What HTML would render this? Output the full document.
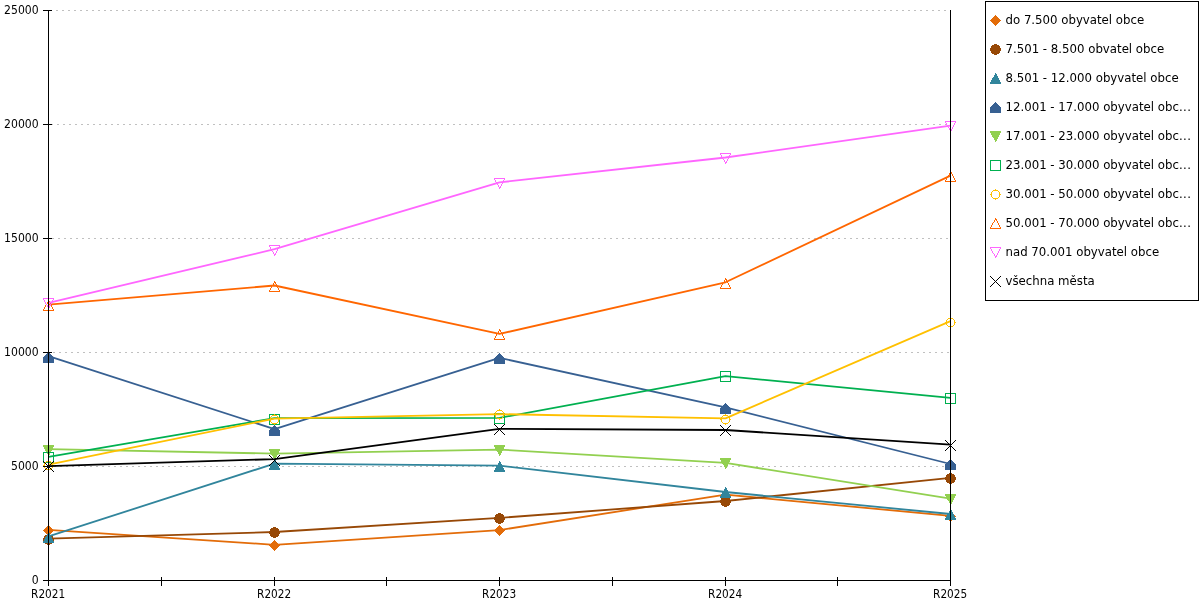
<!DOCTYPE html>
<html lang="cs"><head><meta charset="utf-8"><title>Graf</title>
<style>
html,body{margin:0;padding:0;background:#fff;width:1200px;height:600px;overflow:hidden}
svg{display:block;will-change:transform}
.ax{font-family:"DejaVu Sans Condensed","DejaVu Sans","Liberation Sans",sans-serif;font-size:12.5px;fill:#000}
.lg{font-family:"DejaVu Sans","Liberation Sans",sans-serif;font-size:11.75px;fill:#000}
</style></head><body>
<svg width="1200" height="600" viewBox="0 0 1200 600">
<rect width="1200" height="600" fill="#fff"/>
<g stroke="#c0c0c0" stroke-width="1" stroke-dasharray="2 4" fill="none">
<line x1="50" y1="466.5" x2="950" y2="466.5" stroke-dashoffset="-4"/>
<line x1="50" y1="352.5" x2="950" y2="352.5" stroke-dashoffset="-3"/>
<line x1="50" y1="238.5" x2="950" y2="238.5" stroke-dashoffset="-2"/>
<line x1="50" y1="124.5" x2="950" y2="124.5" stroke-dashoffset="-1"/>
<line x1="50" y1="10.5" x2="950" y2="10.5" stroke-dashoffset="0"/>
</g>
<polyline points="48.5 529.8 274.5 544.8 499.5 530.1 725.5 494.6 950.5 515.9" fill="none" stroke="#E36C09" stroke-width="1.8" stroke-linejoin="round"/>
<g shape-rendering="crispEdges">
<path d="M48 525h1v1h-1zM47 526h3v1h-3zM46 527h5v1h-5zM45 528h7v1h-7zM44 529h9v1h-9zM43 530h11v1h-11zM44 531h9v1h-9zM45 532h7v1h-7zM46 533h5v1h-5zM47 534h3v1h-3zM48 535h1v1h-1z" fill="#E36C09"/>
<path d="M274 540h1v1h-1zM273 541h3v1h-3zM272 542h5v1h-5zM271 543h7v1h-7zM270 544h9v1h-9zM269 545h11v1h-11zM270 546h9v1h-9zM271 547h7v1h-7zM272 548h5v1h-5zM273 549h3v1h-3zM274 550h1v1h-1z" fill="#E36C09"/>
<path d="M499 525h1v1h-1zM498 526h3v1h-3zM497 527h5v1h-5zM496 528h7v1h-7zM495 529h9v1h-9zM494 530h11v1h-11zM495 531h9v1h-9zM496 532h7v1h-7zM497 533h5v1h-5zM498 534h3v1h-3zM499 535h1v1h-1z" fill="#E36C09"/>
<path d="M725 490h1v1h-1zM724 491h3v1h-3zM723 492h5v1h-5zM722 493h7v1h-7zM721 494h9v1h-9zM720 495h11v1h-11zM721 496h9v1h-9zM722 497h7v1h-7zM723 498h5v1h-5zM724 499h3v1h-3zM725 500h1v1h-1z" fill="#E36C09"/>
<path d="M950 511h1v1h-1zM949 512h3v1h-3zM948 513h5v1h-5zM947 514h7v1h-7zM946 515h9v1h-9zM945 516h11v1h-11zM946 517h9v1h-9zM947 518h7v1h-7zM948 519h5v1h-5zM949 520h3v1h-3zM950 521h1v1h-1z" fill="#E36C09"/>
</g>
<polyline points="48.5 538.6 274.5 532.0 499.5 517.9 725.5 501.0 950.5 477.9" fill="none" stroke="#974806" stroke-width="1.8" stroke-linejoin="round"/>
<g shape-rendering="crispEdges">
<path d="M47 534h3v1h-3zM45 535h7v1h-7zM44 536h9v1h-9zM44 537h9v1h-9zM43 538h11v1h-11zM43 539h11v1h-11zM43 540h11v1h-11zM44 541h9v1h-9zM44 542h9v1h-9zM45 543h7v1h-7zM47 544h3v1h-3z" fill="#974806"/>
<path d="M273 527h3v1h-3zM271 528h7v1h-7zM270 529h9v1h-9zM270 530h9v1h-9zM269 531h11v1h-11zM269 532h11v1h-11zM269 533h11v1h-11zM270 534h9v1h-9zM270 535h9v1h-9zM271 536h7v1h-7zM273 537h3v1h-3z" fill="#974806"/>
<path d="M498 513h3v1h-3zM496 514h7v1h-7zM495 515h9v1h-9zM495 516h9v1h-9zM494 517h11v1h-11zM494 518h11v1h-11zM494 519h11v1h-11zM495 520h9v1h-9zM495 521h9v1h-9zM496 522h7v1h-7zM498 523h3v1h-3z" fill="#974806"/>
<path d="M724 496h3v1h-3zM722 497h7v1h-7zM721 498h9v1h-9zM721 499h9v1h-9zM720 500h11v1h-11zM720 501h11v1h-11zM720 502h11v1h-11zM721 503h9v1h-9zM721 504h9v1h-9zM722 505h7v1h-7zM724 506h3v1h-3z" fill="#974806"/>
<path d="M949 473h3v1h-3zM947 474h7v1h-7zM946 475h9v1h-9zM946 476h9v1h-9zM945 477h11v1h-11zM945 478h11v1h-11zM945 479h11v1h-11zM946 480h9v1h-9zM946 481h9v1h-9zM947 482h7v1h-7zM949 483h3v1h-3z" fill="#974806"/>
</g>
<polyline points="48.5 536.4 274.5 463.6 499.5 465.6 725.5 492.0 950.5 514.0" fill="none" stroke="#31859C" stroke-width="1.8" stroke-linejoin="round"/>
<g shape-rendering="crispEdges">
<path d="M48 532h1v1h-1zM48 533h2v1h-2zM47 534h3v1h-3zM47 535h4v1h-4zM46 536h5v1h-5zM45 537h7v1h-7zM45 538h7v1h-7zM44 539h9v1h-9zM44 540h9v1h-9zM43 541h11v1h-11zM43 542h11v1h-11z" fill="#31859C"/>
<path d="M274 459h1v1h-1zM274 460h2v1h-2zM273 461h3v1h-3zM273 462h4v1h-4zM272 463h5v1h-5zM271 464h7v1h-7zM271 465h7v1h-7zM270 466h9v1h-9zM270 467h9v1h-9zM269 468h11v1h-11zM269 469h11v1h-11z" fill="#31859C"/>
<path d="M499 461h1v1h-1zM499 462h2v1h-2zM498 463h3v1h-3zM498 464h4v1h-4zM497 465h5v1h-5zM496 466h7v1h-7zM496 467h7v1h-7zM495 468h9v1h-9zM495 469h9v1h-9zM494 470h11v1h-11zM494 471h11v1h-11z" fill="#31859C"/>
<path d="M725 487h1v1h-1zM725 488h2v1h-2zM724 489h3v1h-3zM724 490h4v1h-4zM723 491h5v1h-5zM722 492h7v1h-7zM722 493h7v1h-7zM721 494h9v1h-9zM721 495h9v1h-9zM720 496h11v1h-11zM720 497h11v1h-11z" fill="#31859C"/>
<path d="M950 509h1v1h-1zM950 510h2v1h-2zM949 511h3v1h-3zM949 512h4v1h-4zM948 513h5v1h-5zM947 514h7v1h-7zM947 515h7v1h-7zM946 516h9v1h-9zM946 517h9v1h-9zM945 518h11v1h-11zM945 519h11v1h-11z" fill="#31859C"/>
</g>
<polyline points="48.5 356.2 274.5 429.1 499.5 357.9 725.5 407.4 950.5 464.0" fill="none" stroke="#376092" stroke-width="1.8" stroke-linejoin="round"/>
<g shape-rendering="crispEdges">
<path d="M48 352h1v1h-1zM47 353h3v1h-3zM46 354h5v1h-5zM45 355h7v1h-7zM44 356h9v1h-9zM43 357h11v1h-11zM43 358h11v1h-11zM43 359h11v1h-11zM43 360h11v1h-11zM43 361h11v1h-11zM43 362h11v1h-11z" fill="#376092"/>
<path d="M274 425h1v1h-1zM273 426h3v1h-3zM272 427h5v1h-5zM271 428h7v1h-7zM270 429h9v1h-9zM269 430h11v1h-11zM269 431h11v1h-11zM269 432h11v1h-11zM269 433h11v1h-11zM269 434h11v1h-11zM269 435h11v1h-11z" fill="#376092"/>
<path d="M499 353h1v1h-1zM498 354h3v1h-3zM497 355h5v1h-5zM496 356h7v1h-7zM495 357h9v1h-9zM494 358h11v1h-11zM494 359h11v1h-11zM494 360h11v1h-11zM494 361h11v1h-11zM494 362h11v1h-11zM494 363h11v1h-11z" fill="#376092"/>
<path d="M725 403h1v1h-1zM724 404h3v1h-3zM723 405h5v1h-5zM722 406h7v1h-7zM721 407h9v1h-9zM720 408h11v1h-11zM720 409h11v1h-11zM720 410h11v1h-11zM720 411h11v1h-11zM720 412h11v1h-11zM720 413h11v1h-11z" fill="#376092"/>
<path d="M950 459h1v1h-1zM949 460h3v1h-3zM948 461h5v1h-5zM947 462h7v1h-7zM946 463h9v1h-9zM945 464h11v1h-11zM945 465h11v1h-11zM945 466h11v1h-11zM945 467h11v1h-11zM945 468h11v1h-11zM945 469h11v1h-11z" fill="#376092"/>
</g>
<polyline points="48.5 449.2 274.5 453.6 499.5 449.6 725.5 462.9 950.5 498.7" fill="none" stroke="#92D050" stroke-width="1.8" stroke-linejoin="round"/>
<g shape-rendering="crispEdges">
<path d="M43 445h11v1h-11zM43 446h11v1h-11zM44 447h9v1h-9zM44 448h9v1h-9zM45 449h7v1h-7zM45 450h7v1h-7zM46 451h5v1h-5zM47 452h4v1h-4zM47 453h3v1h-3zM48 454h2v1h-2zM48 455h1v1h-1z" fill="#92D050"/>
<path d="M269 449h11v1h-11zM269 450h11v1h-11zM270 451h9v1h-9zM270 452h9v1h-9zM271 453h7v1h-7zM271 454h7v1h-7zM272 455h5v1h-5zM273 456h4v1h-4zM273 457h3v1h-3zM274 458h2v1h-2zM274 459h1v1h-1z" fill="#92D050"/>
<path d="M494 445h11v1h-11zM494 446h11v1h-11zM495 447h9v1h-9zM495 448h9v1h-9zM496 449h7v1h-7zM496 450h7v1h-7zM497 451h5v1h-5zM498 452h4v1h-4zM498 453h3v1h-3zM499 454h2v1h-2zM499 455h1v1h-1z" fill="#92D050"/>
<path d="M720 458h11v1h-11zM720 459h11v1h-11zM721 460h9v1h-9zM721 461h9v1h-9zM722 462h7v1h-7zM722 463h7v1h-7zM723 464h5v1h-5zM724 465h4v1h-4zM724 466h3v1h-3zM725 467h2v1h-2zM725 468h1v1h-1z" fill="#92D050"/>
<path d="M945 494h11v1h-11zM945 495h11v1h-11zM946 496h9v1h-9zM946 497h9v1h-9zM947 498h7v1h-7zM947 499h7v1h-7zM948 500h5v1h-5zM949 501h4v1h-4zM949 502h3v1h-3zM950 503h2v1h-2zM950 504h1v1h-1z" fill="#92D050"/>
</g>
<polyline points="48.5 456.9 274.5 418.2 499.5 417.9 725.5 376.1 950.5 397.9" fill="none" stroke="#00B050" stroke-width="1.8" stroke-linejoin="round"/>
<g shape-rendering="crispEdges">
<path d="M43 452h11v1h-11zM43 453h1v1h-1zM53 453h1v1h-1zM43 454h1v1h-1zM53 454h1v1h-1zM43 455h1v1h-1zM53 455h1v1h-1zM43 456h1v1h-1zM53 456h1v1h-1zM43 457h1v1h-1zM53 457h1v1h-1zM43 458h1v1h-1zM53 458h1v1h-1zM43 459h1v1h-1zM53 459h1v1h-1zM43 460h1v1h-1zM53 460h1v1h-1zM43 461h1v1h-1zM53 461h1v1h-1zM43 462h11v1h-11z" fill="#00B050"/>
<path d="M269 414h11v1h-11zM269 415h1v1h-1zM279 415h1v1h-1zM269 416h1v1h-1zM279 416h1v1h-1zM269 417h1v1h-1zM279 417h1v1h-1zM269 418h1v1h-1zM279 418h1v1h-1zM269 419h1v1h-1zM279 419h1v1h-1zM269 420h1v1h-1zM279 420h1v1h-1zM269 421h1v1h-1zM279 421h1v1h-1zM269 422h1v1h-1zM279 422h1v1h-1zM269 423h1v1h-1zM279 423h1v1h-1zM269 424h11v1h-11z" fill="#00B050"/>
<path d="M494 413h11v1h-11zM494 414h1v1h-1zM504 414h1v1h-1zM494 415h1v1h-1zM504 415h1v1h-1zM494 416h1v1h-1zM504 416h1v1h-1zM494 417h1v1h-1zM504 417h1v1h-1zM494 418h1v1h-1zM504 418h1v1h-1zM494 419h1v1h-1zM504 419h1v1h-1zM494 420h1v1h-1zM504 420h1v1h-1zM494 421h1v1h-1zM504 421h1v1h-1zM494 422h1v1h-1zM504 422h1v1h-1zM494 423h11v1h-11z" fill="#00B050"/>
<path d="M720 371h11v1h-11zM720 372h1v1h-1zM730 372h1v1h-1zM720 373h1v1h-1zM730 373h1v1h-1zM720 374h1v1h-1zM730 374h1v1h-1zM720 375h1v1h-1zM730 375h1v1h-1zM720 376h1v1h-1zM730 376h1v1h-1zM720 377h1v1h-1zM730 377h1v1h-1zM720 378h1v1h-1zM730 378h1v1h-1zM720 379h1v1h-1zM730 379h1v1h-1zM720 380h1v1h-1zM730 380h1v1h-1zM720 381h11v1h-11z" fill="#00B050"/>
<path d="M945 393h11v1h-11zM945 394h1v1h-1zM955 394h1v1h-1zM945 395h1v1h-1zM955 395h1v1h-1zM945 396h1v1h-1zM955 396h1v1h-1zM945 397h1v1h-1zM955 397h1v1h-1zM945 398h1v1h-1zM955 398h1v1h-1zM945 399h1v1h-1zM955 399h1v1h-1zM945 400h1v1h-1zM955 400h1v1h-1zM945 401h1v1h-1zM955 401h1v1h-1zM945 402h1v1h-1zM955 402h1v1h-1zM945 403h11v1h-11z" fill="#00B050"/>
</g>
<polyline points="48.5 464.6 274.5 418.6 499.5 414.1 725.5 418.3 950.5 321.1" fill="none" stroke="#FFC000" stroke-width="1.8" stroke-linejoin="round"/>
<g shape-rendering="crispEdges">
<path d="M48 460h1v1h-1zM46 461h5v1h-5zM45 462h1v1h-1zM51 462h1v1h-1zM44 463h1v1h-1zM52 463h1v1h-1zM44 464h1v1h-1zM52 464h1v1h-1zM43 465h2v1h-2zM52 465h2v1h-2zM44 466h1v1h-1zM52 466h1v1h-1zM44 467h1v1h-1zM52 467h1v1h-1zM45 468h1v1h-1zM51 468h1v1h-1zM46 469h5v1h-5zM48 470h1v1h-1z" fill="#FFC000"/>
<path d="M274 414h1v1h-1zM272 415h5v1h-5zM271 416h1v1h-1zM277 416h1v1h-1zM270 417h1v1h-1zM278 417h1v1h-1zM270 418h1v1h-1zM278 418h1v1h-1zM269 419h2v1h-2zM278 419h2v1h-2zM270 420h1v1h-1zM278 420h1v1h-1zM270 421h1v1h-1zM278 421h1v1h-1zM271 422h1v1h-1zM277 422h1v1h-1zM272 423h5v1h-5zM274 424h1v1h-1z" fill="#FFC000"/>
<path d="M499 409h1v1h-1zM497 410h5v1h-5zM496 411h1v1h-1zM502 411h1v1h-1zM495 412h1v1h-1zM503 412h1v1h-1zM495 413h1v1h-1zM503 413h1v1h-1zM494 414h2v1h-2zM503 414h2v1h-2zM495 415h1v1h-1zM503 415h1v1h-1zM495 416h1v1h-1zM503 416h1v1h-1zM496 417h1v1h-1zM502 417h1v1h-1zM497 418h5v1h-5zM499 419h1v1h-1z" fill="#FFC000"/>
<path d="M725 414h1v1h-1zM723 415h5v1h-5zM722 416h1v1h-1zM728 416h1v1h-1zM721 417h1v1h-1zM729 417h1v1h-1zM721 418h1v1h-1zM729 418h1v1h-1zM720 419h2v1h-2zM729 419h2v1h-2zM721 420h1v1h-1zM729 420h1v1h-1zM721 421h1v1h-1zM729 421h1v1h-1zM722 422h1v1h-1zM728 422h1v1h-1zM723 423h5v1h-5zM725 424h1v1h-1z" fill="#FFC000"/>
<path d="M950 317h1v1h-1zM948 318h5v1h-5zM947 319h1v1h-1zM953 319h1v1h-1zM946 320h1v1h-1zM954 320h1v1h-1zM946 321h1v1h-1zM954 321h1v1h-1zM945 322h2v1h-2zM954 322h2v1h-2zM946 323h1v1h-1zM954 323h1v1h-1zM946 324h1v1h-1zM954 324h1v1h-1zM947 325h1v1h-1zM953 325h1v1h-1zM948 326h5v1h-5zM950 327h1v1h-1z" fill="#FFC000"/>
</g>
<polyline points="48.5 304.6 274.5 285.5 499.5 333.9 725.5 282.3 950.5 175.6" fill="none" stroke="#FF6600" stroke-width="1.8" stroke-linejoin="round"/>
<g shape-rendering="crispEdges">
<path d="M48 300h1v1h-1zM48 301h2v1h-2zM47 302h1v1h-1zM49 302h1v1h-1zM47 303h1v1h-1zM50 303h1v1h-1zM46 304h1v1h-1zM50 304h1v1h-1zM45 305h1v1h-1zM51 305h1v1h-1zM45 306h1v1h-1zM51 306h1v1h-1zM44 307h1v1h-1zM52 307h1v1h-1zM44 308h1v1h-1zM52 308h1v1h-1zM43 309h1v1h-1zM53 309h1v1h-1zM43 310h11v1h-11z" fill="#FF6600"/>
<path d="M274 281h1v1h-1zM274 282h2v1h-2zM273 283h1v1h-1zM275 283h1v1h-1zM273 284h1v1h-1zM276 284h1v1h-1zM272 285h1v1h-1zM276 285h1v1h-1zM271 286h1v1h-1zM277 286h1v1h-1zM271 287h1v1h-1zM277 287h1v1h-1zM270 288h1v1h-1zM278 288h1v1h-1zM270 289h1v1h-1zM278 289h1v1h-1zM269 290h1v1h-1zM279 290h1v1h-1zM269 291h11v1h-11z" fill="#FF6600"/>
<path d="M499 329h1v1h-1zM499 330h2v1h-2zM498 331h1v1h-1zM500 331h1v1h-1zM498 332h1v1h-1zM501 332h1v1h-1zM497 333h1v1h-1zM501 333h1v1h-1zM496 334h1v1h-1zM502 334h1v1h-1zM496 335h1v1h-1zM502 335h1v1h-1zM495 336h1v1h-1zM503 336h1v1h-1zM495 337h1v1h-1zM503 337h1v1h-1zM494 338h1v1h-1zM504 338h1v1h-1zM494 339h11v1h-11z" fill="#FF6600"/>
<path d="M725 278h1v1h-1zM725 279h2v1h-2zM724 280h1v1h-1zM726 280h1v1h-1zM724 281h1v1h-1zM727 281h1v1h-1zM723 282h1v1h-1zM727 282h1v1h-1zM722 283h1v1h-1zM728 283h1v1h-1zM722 284h1v1h-1zM728 284h1v1h-1zM721 285h1v1h-1zM729 285h1v1h-1zM721 286h1v1h-1zM729 286h1v1h-1zM720 287h1v1h-1zM730 287h1v1h-1zM720 288h11v1h-11z" fill="#FF6600"/>
<path d="M950 171h1v1h-1zM950 172h2v1h-2zM949 173h1v1h-1zM951 173h1v1h-1zM949 174h1v1h-1zM952 174h1v1h-1zM948 175h1v1h-1zM952 175h1v1h-1zM947 176h1v1h-1zM953 176h1v1h-1zM947 177h1v1h-1zM953 177h1v1h-1zM946 178h1v1h-1zM954 178h1v1h-1zM946 179h1v1h-1zM954 179h1v1h-1zM945 180h1v1h-1zM955 180h1v1h-1zM945 181h11v1h-11z" fill="#FF6600"/>
</g>
<polyline points="48.5 302.8 274.5 249.2 499.5 182.4 725.5 157.5 950.5 125.6" fill="none" stroke="#FF66FF" stroke-width="1.8" stroke-linejoin="round"/>
<g shape-rendering="crispEdges">
<path d="M43 298h11v1h-11zM43 299h1v1h-1zM53 299h1v1h-1zM44 300h1v1h-1zM52 300h1v1h-1zM44 301h1v1h-1zM52 301h1v1h-1zM45 302h1v1h-1zM51 302h1v1h-1zM45 303h1v1h-1zM51 303h1v1h-1zM46 304h1v1h-1zM50 304h1v1h-1zM47 305h1v1h-1zM50 305h1v1h-1zM47 306h1v1h-1zM49 306h1v1h-1zM48 307h2v1h-2zM48 308h1v1h-1z" fill="#FF66FF"/>
<path d="M269 245h11v1h-11zM269 246h1v1h-1zM279 246h1v1h-1zM270 247h1v1h-1zM278 247h1v1h-1zM270 248h1v1h-1zM278 248h1v1h-1zM271 249h1v1h-1zM277 249h1v1h-1zM271 250h1v1h-1zM277 250h1v1h-1zM272 251h1v1h-1zM276 251h1v1h-1zM273 252h1v1h-1zM276 252h1v1h-1zM273 253h1v1h-1zM275 253h1v1h-1zM274 254h2v1h-2zM274 255h1v1h-1z" fill="#FF66FF"/>
<path d="M494 178h11v1h-11zM494 179h1v1h-1zM504 179h1v1h-1zM495 180h1v1h-1zM503 180h1v1h-1zM495 181h1v1h-1zM503 181h1v1h-1zM496 182h1v1h-1zM502 182h1v1h-1zM496 183h1v1h-1zM502 183h1v1h-1zM497 184h1v1h-1zM501 184h1v1h-1zM498 185h1v1h-1zM501 185h1v1h-1zM498 186h1v1h-1zM500 186h1v1h-1zM499 187h2v1h-2zM499 188h1v1h-1z" fill="#FF66FF"/>
<path d="M720 153h11v1h-11zM720 154h1v1h-1zM730 154h1v1h-1zM721 155h1v1h-1zM729 155h1v1h-1zM721 156h1v1h-1zM729 156h1v1h-1zM722 157h1v1h-1zM728 157h1v1h-1zM722 158h1v1h-1zM728 158h1v1h-1zM723 159h1v1h-1zM727 159h1v1h-1zM724 160h1v1h-1zM727 160h1v1h-1zM724 161h1v1h-1zM726 161h1v1h-1zM725 162h2v1h-2zM725 163h1v1h-1z" fill="#FF66FF"/>
<path d="M945 121h11v1h-11zM945 122h1v1h-1zM955 122h1v1h-1zM946 123h1v1h-1zM954 123h1v1h-1zM946 124h1v1h-1zM954 124h1v1h-1zM947 125h1v1h-1zM953 125h1v1h-1zM947 126h1v1h-1zM953 126h1v1h-1zM948 127h1v1h-1zM952 127h1v1h-1zM949 128h1v1h-1zM952 128h1v1h-1zM949 129h1v1h-1zM951 129h1v1h-1zM950 130h2v1h-2zM950 131h1v1h-1z" fill="#FF66FF"/>
</g>
<polyline points="48.5 466.1 274.5 459.1 499.5 428.9 725.5 430.0 950.5 444.6" fill="none" stroke="#000000" stroke-width="1.8" stroke-linejoin="round"/>
<g shape-rendering="crispEdges">
<path d="M43 461h1v1h-1zM53 461h1v1h-1zM44 462h1v1h-1zM52 462h1v1h-1zM45 463h1v1h-1zM51 463h1v1h-1zM46 464h1v1h-1zM50 464h1v1h-1zM47 465h1v1h-1zM49 465h1v1h-1zM48 466h1v1h-1zM47 467h1v1h-1zM49 467h1v1h-1zM46 468h1v1h-1zM50 468h1v1h-1zM45 469h1v1h-1zM51 469h1v1h-1zM44 470h1v1h-1zM52 470h1v1h-1zM43 471h1v1h-1zM53 471h1v1h-1z" fill="#000000"/>
<path d="M269 455h1v1h-1zM279 455h1v1h-1zM270 456h1v1h-1zM278 456h1v1h-1zM271 457h1v1h-1zM277 457h1v1h-1zM272 458h1v1h-1zM276 458h1v1h-1zM273 459h1v1h-1zM275 459h1v1h-1zM274 460h1v1h-1zM273 461h1v1h-1zM275 461h1v1h-1zM272 462h1v1h-1zM276 462h1v1h-1zM271 463h1v1h-1zM277 463h1v1h-1zM270 464h1v1h-1zM278 464h1v1h-1zM269 465h1v1h-1zM279 465h1v1h-1z" fill="#000000"/>
<path d="M494 424h1v1h-1zM504 424h1v1h-1zM495 425h1v1h-1zM503 425h1v1h-1zM496 426h1v1h-1zM502 426h1v1h-1zM497 427h1v1h-1zM501 427h1v1h-1zM498 428h1v1h-1zM500 428h1v1h-1zM499 429h1v1h-1zM498 430h1v1h-1zM500 430h1v1h-1zM497 431h1v1h-1zM501 431h1v1h-1zM496 432h1v1h-1zM502 432h1v1h-1zM495 433h1v1h-1zM503 433h1v1h-1zM494 434h1v1h-1zM504 434h1v1h-1z" fill="#000000"/>
<path d="M720 425h1v1h-1zM730 425h1v1h-1zM721 426h1v1h-1zM729 426h1v1h-1zM722 427h1v1h-1zM728 427h1v1h-1zM723 428h1v1h-1zM727 428h1v1h-1zM724 429h1v1h-1zM726 429h1v1h-1zM725 430h1v1h-1zM724 431h1v1h-1zM726 431h1v1h-1zM723 432h1v1h-1zM727 432h1v1h-1zM722 433h1v1h-1zM728 433h1v1h-1zM721 434h1v1h-1zM729 434h1v1h-1zM720 435h1v1h-1zM730 435h1v1h-1z" fill="#000000"/>
<path d="M945 440h1v1h-1zM955 440h1v1h-1zM946 441h1v1h-1zM954 441h1v1h-1zM947 442h1v1h-1zM953 442h1v1h-1zM948 443h1v1h-1zM952 443h1v1h-1zM949 444h1v1h-1zM951 444h1v1h-1zM950 445h1v1h-1zM949 446h1v1h-1zM951 446h1v1h-1zM948 447h1v1h-1zM952 447h1v1h-1zM947 448h1v1h-1zM953 448h1v1h-1zM946 449h1v1h-1zM954 449h1v1h-1zM945 450h1v1h-1zM955 450h1v1h-1z" fill="#000000"/>
</g>
<g stroke="#000" stroke-width="1" fill="none" shape-rendering="crispEdges">
<line x1="48.5" y1="10" x2="48.5" y2="581"/>
<line x1="950.5" y1="10" x2="950.5" y2="581"/>
<line x1="48" y1="580.5" x2="951" y2="580.5"/>
<line x1="43" y1="580.5" x2="52" y2="580.5"/>
<line x1="43" y1="466.5" x2="52" y2="466.5"/>
<line x1="43" y1="352.5" x2="52" y2="352.5"/>
<line x1="43" y1="238.5" x2="52" y2="238.5"/>
<line x1="43" y1="124.5" x2="52" y2="124.5"/>
<line x1="43" y1="10.5" x2="52" y2="10.5"/>
<line x1="48.5" y1="577" x2="48.5" y2="586"/>
<line x1="161.5" y1="577" x2="161.5" y2="586"/>
<line x1="274.5" y1="577" x2="274.5" y2="586"/>
<line x1="386.5" y1="577" x2="386.5" y2="586"/>
<line x1="499.5" y1="577" x2="499.5" y2="586"/>
<line x1="612.5" y1="577" x2="612.5" y2="586"/>
<line x1="725.5" y1="577" x2="725.5" y2="586"/>
<line x1="837.5" y1="577" x2="837.5" y2="586"/>
<line x1="950.5" y1="577" x2="950.5" y2="586"/>
</g>
<text class="ax" transform="translate(38.6 584.0) scale(0.965 1)" text-anchor="end">0</text>
<text class="ax" transform="translate(38.6 470.0) scale(0.965 1)" text-anchor="end">5000</text>
<text class="ax" transform="translate(38.6 356.0) scale(0.965 1)" text-anchor="end">10000</text>
<text class="ax" transform="translate(38.6 242.0) scale(0.965 1)" text-anchor="end">15000</text>
<text class="ax" transform="translate(38.6 128.0) scale(0.965 1)" text-anchor="end">20000</text>
<text class="ax" transform="translate(38.6 14.0) scale(0.965 1)" text-anchor="end">25000</text>
<text class="ax" transform="translate(48.1 598) scale(0.935 1)" text-anchor="middle">R2021</text>
<text class="ax" transform="translate(274.1 598) scale(0.935 1)" text-anchor="middle">R2022</text>
<text class="ax" transform="translate(499.1 598) scale(0.935 1)" text-anchor="middle">R2023</text>
<text class="ax" transform="translate(725.1 598) scale(0.935 1)" text-anchor="middle">R2024</text>
<text class="ax" transform="translate(950.1 598) scale(0.935 1)" text-anchor="middle">R2025</text>
<rect x="985.5" y="1.5" width="213" height="299" fill="#fff" stroke="#000" stroke-width="1"/>
<path d="M995 15h1v1h-1zM994 16h3v1h-3zM993 17h5v1h-5zM992 18h7v1h-7zM991 19h9v1h-9zM990 20h11v1h-11zM991 21h9v1h-9zM992 22h7v1h-7zM993 23h5v1h-5zM994 24h3v1h-3zM995 25h1v1h-1z" fill="#E36C09"/>
<text class="lg" x="1005.5" y="23.5">do 7.500 obyvatel obce</text>
<path d="M994 44h3v1h-3zM992 45h7v1h-7zM991 46h9v1h-9zM991 47h9v1h-9zM990 48h11v1h-11zM990 49h11v1h-11zM990 50h11v1h-11zM991 51h9v1h-9zM991 52h9v1h-9zM992 53h7v1h-7zM994 54h3v1h-3z" fill="#974806"/>
<text class="lg" x="1005.5" y="52.5">7.501 - 8.500 obvatel obce</text>
<path d="M995 73h1v1h-1zM995 74h2v1h-2zM994 75h3v1h-3zM994 76h4v1h-4zM993 77h5v1h-5zM992 78h7v1h-7zM992 79h7v1h-7zM991 80h9v1h-9zM991 81h9v1h-9zM990 82h11v1h-11zM990 83h11v1h-11z" fill="#31859C"/>
<text class="lg" x="1005.5" y="81.5">8.501 - 12.000 obyvatel obce</text>
<path d="M995 102h1v1h-1zM994 103h3v1h-3zM993 104h5v1h-5zM992 105h7v1h-7zM991 106h9v1h-9zM990 107h11v1h-11zM990 108h11v1h-11zM990 109h11v1h-11zM990 110h11v1h-11zM990 111h11v1h-11zM990 112h11v1h-11z" fill="#376092"/>
<text class="lg" x="1005.5" y="110.5">12.001 - 17.000 obyvatel obc<tspan letter-spacing="0.5">...</tspan></text>
<path d="M990 131h11v1h-11zM990 132h11v1h-11zM991 133h9v1h-9zM991 134h9v1h-9zM992 135h7v1h-7zM992 136h7v1h-7zM993 137h5v1h-5zM994 138h4v1h-4zM994 139h3v1h-3zM995 140h2v1h-2zM995 141h1v1h-1z" fill="#92D050"/>
<text class="lg" x="1005.5" y="139.5">17.001 - 23.000 obyvatel obc<tspan letter-spacing="0.5">...</tspan></text>
<path d="M990 160h11v1h-11zM990 161h1v1h-1zM1000 161h1v1h-1zM990 162h1v1h-1zM1000 162h1v1h-1zM990 163h1v1h-1zM1000 163h1v1h-1zM990 164h1v1h-1zM1000 164h1v1h-1zM990 165h1v1h-1zM1000 165h1v1h-1zM990 166h1v1h-1zM1000 166h1v1h-1zM990 167h1v1h-1zM1000 167h1v1h-1zM990 168h1v1h-1zM1000 168h1v1h-1zM990 169h1v1h-1zM1000 169h1v1h-1zM990 170h11v1h-11z" fill="#00B050"/>
<text class="lg" x="1005.5" y="168.5">23.001 - 30.000 obyvatel obc<tspan letter-spacing="0.5">...</tspan></text>
<path d="M995 189h1v1h-1zM993 190h5v1h-5zM992 191h1v1h-1zM998 191h1v1h-1zM991 192h1v1h-1zM999 192h1v1h-1zM991 193h1v1h-1zM999 193h1v1h-1zM990 194h2v1h-2zM999 194h2v1h-2zM991 195h1v1h-1zM999 195h1v1h-1zM991 196h1v1h-1zM999 196h1v1h-1zM992 197h1v1h-1zM998 197h1v1h-1zM993 198h5v1h-5zM995 199h1v1h-1z" fill="#FFC000"/>
<text class="lg" x="1005.5" y="197.5">30.001 - 50.000 obyvatel obc<tspan letter-spacing="0.5">...</tspan></text>
<path d="M995 218h1v1h-1zM995 219h2v1h-2zM994 220h1v1h-1zM996 220h1v1h-1zM994 221h1v1h-1zM997 221h1v1h-1zM993 222h1v1h-1zM997 222h1v1h-1zM992 223h1v1h-1zM998 223h1v1h-1zM992 224h1v1h-1zM998 224h1v1h-1zM991 225h1v1h-1zM999 225h1v1h-1zM991 226h1v1h-1zM999 226h1v1h-1zM990 227h1v1h-1zM1000 227h1v1h-1zM990 228h11v1h-11z" fill="#FF6600"/>
<text class="lg" x="1005.5" y="226.5">50.001 - 70.000 obyvatel obc<tspan letter-spacing="0.5">...</tspan></text>
<path d="M990 247h11v1h-11zM990 248h1v1h-1zM1000 248h1v1h-1zM991 249h1v1h-1zM999 249h1v1h-1zM991 250h1v1h-1zM999 250h1v1h-1zM992 251h1v1h-1zM998 251h1v1h-1zM992 252h1v1h-1zM998 252h1v1h-1zM993 253h1v1h-1zM997 253h1v1h-1zM994 254h1v1h-1zM997 254h1v1h-1zM994 255h1v1h-1zM996 255h1v1h-1zM995 256h2v1h-2zM995 257h1v1h-1z" fill="#FF66FF"/>
<text class="lg" x="1005.5" y="255.5">nad 70.001 obyvatel obce</text>
<path d="M990 276h1v1h-1zM1000 276h1v1h-1zM991 277h1v1h-1zM999 277h1v1h-1zM992 278h1v1h-1zM998 278h1v1h-1zM993 279h1v1h-1zM997 279h1v1h-1zM994 280h1v1h-1zM996 280h1v1h-1zM995 281h1v1h-1zM994 282h1v1h-1zM996 282h1v1h-1zM993 283h1v1h-1zM997 283h1v1h-1zM992 284h1v1h-1zM998 284h1v1h-1zM991 285h1v1h-1zM999 285h1v1h-1zM990 286h1v1h-1zM1000 286h1v1h-1z" fill="#000000"/>
<text class="lg" x="1005.5" y="284.5">všechna města</text>
</svg>
</body></html>
